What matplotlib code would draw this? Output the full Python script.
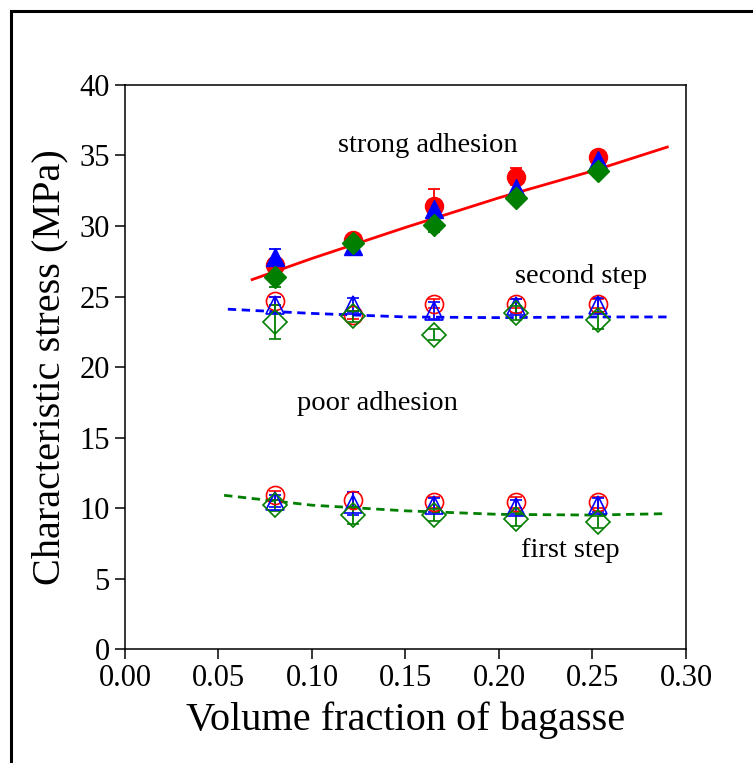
import matplotlib
matplotlib.use("Agg")
import matplotlib.pyplot as plt
from matplotlib.patches import Rectangle

# volume fraction of bagasse
vf = [0.08, 0.122, 0.165, 0.209, 0.253]

# strong adhesion (filled markers)
strong_red = [27.2, 29.0, 31.4, 33.5, 34.9]
strong_red_err = [0.3, 0.3, 1.2, 0.6, 0.3]
strong_blue = [27.8, 28.6, 31.2, 32.7, 34.7]
strong_blue_err = [0.6, 0.4, 0.5, 0.8, 0.4]
strong_green = [26.4, 28.8, 30.1, 32.0, 33.9]
strong_green_err = [0.7, 0.3, 0.5, 0.3, 0.3]

# poor adhesion, second step (open markers)
second_red = [24.7, 23.7, 24.5, 24.5, 24.5]
second_red_err = [0.3, 0.3, 0.3, 0.3, 0.3]
second_blue = [24.4, 24.4, 24.0, 24.3, 24.4]
second_blue_err = [0.6, 0.5, 0.6, 0.5, 0.5]
second_green = [23.2, 23.6, 22.3, 23.8, 23.3]
second_green_err = [1.2, 0.4, 0.4, 0.5, 0.6]

# poor adhesion, first step (open markers)
first_red = [10.9, 10.6, 10.4, 10.4, 10.4]
first_red_err = [0.3, 0.5, 0.4, 0.4, 0.4]
first_blue = [10.5, 10.3, 10.2, 10.1, 10.2]
first_blue_err = [0.4, 0.8, 0.5, 0.5, 0.5]
first_green = [10.2, 9.5, 9.5, 9.2, 9.0]
first_green_err = [0.4, 0.6, 0.4, 0.5, 0.4]

# fitted curves
fit_strong_x = [0.068, 0.10, 0.15, 0.20, 0.25, 0.29]
fit_strong_y = [26.2, 27.7, 29.9, 32.0, 33.9, 35.6]
fit_second_x = [0.055, 0.10, 0.15, 0.20, 0.25, 0.29]
fit_second_y = [24.1, 23.8, 23.55, 23.5, 23.55, 23.55]
fit_first_x = [0.053, 0.10, 0.15, 0.20, 0.25, 0.29]
fit_first_y = [10.9, 10.2, 9.8, 9.55, 9.5, 9.6]

RED = "#ff0000"
BLUE = "#0000ff"
GREEN = "#007f00"

plt.rcParams["font.family"] = ["Liberation Serif", "DejaVu Serif"]

fig = plt.figure(figsize=(7.53, 7.63), dpi=100)
ax = fig.add_axes([0.166, 0.1494, 0.745, 0.7392])

# outer frame (only left and top visible)
fig.patches.append(Rectangle((11 / 753, -0.2), 1.2, 1.2 - 11 / 763,
                             transform=fig.transFigure, fill=False,
                             edgecolor="black", linewidth=2.2))

err_kw = dict(capsize=4, elinewidth=1.3, capthick=1.3, linestyle="none")

# strong adhesion, filled
ax.errorbar(vf, strong_red, yerr=strong_red_err, marker="o", ms=13, color=RED,
            ecolor=RED, **err_kw)
ax.errorbar(vf, strong_blue, yerr=strong_blue_err, marker="^", ms=13, color=BLUE,
            ecolor=BLUE, **err_kw)
ax.errorbar(vf, strong_green, yerr=strong_green_err, marker="D", ms=11, color=GREEN,
            ecolor=GREEN, **err_kw)

# second and first step, open
for ys, es, m, ms, c in [
    (second_red, second_red_err, "o", 13, RED),
    (second_blue, second_blue_err, "^", 13, BLUE),
    (second_green, second_green_err, "D", 12, GREEN),
    (first_red, first_red_err, "o", 13, RED),
    (first_blue, first_blue_err, "^", 13, BLUE),
    (first_green, first_green_err, "D", 12, GREEN),
]:
    ax.errorbar(vf, ys, yerr=es, marker=m, ms=ms, mfc="none", mec=c, mew=1.2,
                color=c, ecolor=c, **err_kw)

ax.plot(fit_strong_x, fit_strong_y, color=RED, lw=2.0)
ax.plot(fit_second_x, fit_second_y, color=BLUE, lw=2.0, ls=(0, (3, 2)))
ax.plot(fit_first_x, fit_first_y, color=GREEN, lw=2.0, ls=(0, (3, 2)))

ax.text(0.162, 35.7, "strong adhesion", fontsize=20.5, ha="center", va="center")
ax.text(0.244, 26.4, "second step", fontsize=20.5, ha="center", va="center")
ax.text(0.135, 17.4, "poor adhesion", fontsize=20.5, ha="center", va="center")
ax.text(0.238, 7.0, "first step", fontsize=20.5, ha="center", va="center")

ax.set_xlim(0, 0.30)
ax.set_ylim(0, 40)
ax.set_xticks([0.00, 0.05, 0.10, 0.15, 0.20, 0.25, 0.30])
ax.set_xticklabels(["0.00", "0.05", "0.10", "0.15", "0.20", "0.25", "0.30"])
ax.set_yticks(range(0, 41, 5))
ax.tick_params(direction="out", length=7, width=1.1, labelsize=22, pad=4)
for s in ax.spines.values():
    s.set_linewidth(1.1)

ax.set_xlabel("Volume fraction of bagasse", fontsize=29, labelpad=6)
ax.set_ylabel("Characteristic stress (MPa)", fontsize=29, labelpad=8)

fig.savefig("out.png", dpi=100)
